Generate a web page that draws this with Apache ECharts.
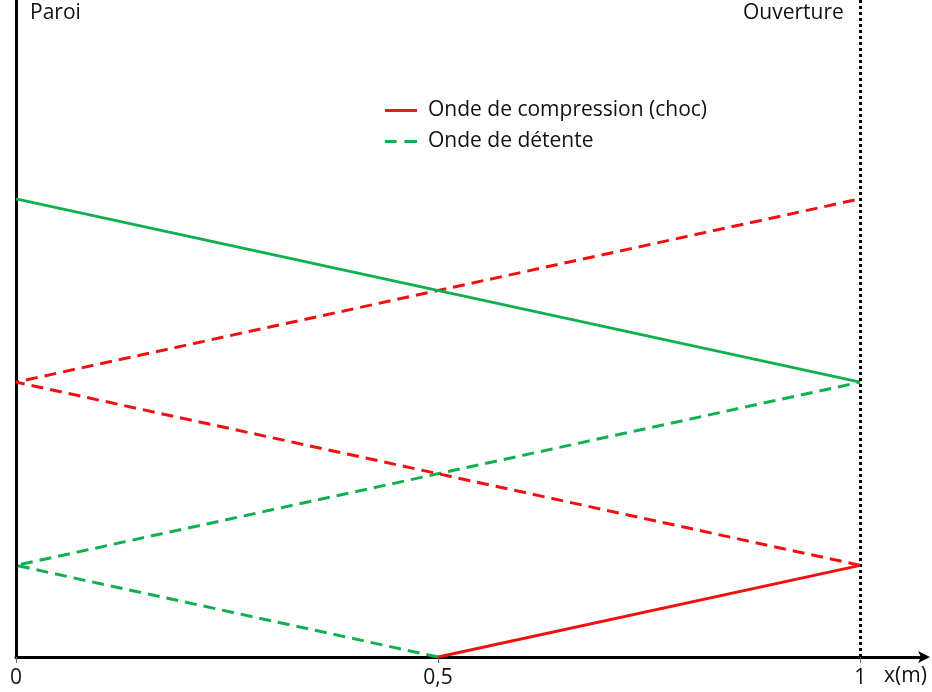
<!DOCTYPE html>
<html><head><meta charset="utf-8">
<script src="https://cdn.jsdelivr.net/npm/echarts@6/dist/echarts.min.js"></script>
<style>html,body{margin:0;padding:0;background:#fff}#c{width:932px;height:692px}</style>
</head><body><div id="c"></div>
<script>
// x positions (m) and time (arbitrary units) of each wave path
const shockX = [0.5, 1];        const shockT = [0, 1];        // Onde de compression (choc)
const detenteX = [0.5, 0, 1];   const detenteT = [0, 1, 3];   // Onde de détente
const reflCompX = [1, 0, 1];    const reflCompT = [1, 3, 5];  // reflected compression (dashed red)
const reflDetX = [1, 0];        const reflDetT = [3, 5];      // reflected expansion (solid green)
const xTickValues = [0, 0.5, 1];
const wallX = 1;

const RED = '#F01010', GREEN = '#10B050';
const FONT = 'Open Sans';
const pts = (xs, ts) => xs.map((x, i) => [x, ts[i]]);

const chart = echarts.init(document.getElementById('c'));
chart.setOption({
  animation: false,
  grid: {left: 16, right: 6, top: 0, bottom: 35},
  legend: {
    data: [
      {name: 'Onde de compression (choc)', icon: 'path://M0,0H33V3H0Z'},
      {name: 'Onde de détente', icon: 'path://M0,0H12V3H0ZM20,0H33V3H20Z'}
    ],
    orient: 'vertical', left: 385, top: 100, padding: 0, itemWidth: 32, itemHeight: 3, itemGap: 10,
    textStyle: {fontFamily: FONT, fontSize: 21, color: '#111', padding: [0, 0, 0, 6]}
  },
  xAxis: {
    type: 'value', min: 0, max: 1.078, interval: 0.5,
    splitLine: {show: false},
    axisLine: {lineStyle: {color: '#000', width: 3}, symbol: ['none', 'arrow'], symbolSize: [9, 12], symbolOffset: [0, 4]},
    axisTick: {show: true, length: 6, lineStyle: {color: '#666', width: 1}},
    axisLabel: {
      showMaxLabel: false, margin: 11, fontFamily: FONT, fontSize: 21, color: '#111',
      formatter: v => xTickValues.includes(v) ? String(v).replace('.', ',') : ''
    }
  },
  yAxis: {
    type: 'value', min: 0, max: 7.17,
    splitLine: {show: false},
    axisLine: {show: true, lineStyle: {color: '#000', width: 3}},
    axisTick: {show: false}, axisLabel: {show: false}
  },
  graphic: [
    {type: 'text', left: 30, top: 3, style: {text: 'Paroi', font: '21px "Open Sans"', fill: '#111'}},
    {type: 'text', left: 743, top: 3, style: {text: 'Ouverture', font: '21px "Open Sans"', fill: '#111'}},
    {type: 'text', left: 884, top: 666, style: {text: 'x(m)', font: '21px "Open Sans"', fill: '#111'}}
  ],
  series: [
    {name: 'Onde de compression (choc)', type: 'line', data: pts(shockX, shockT), symbol: 'none',
     lineStyle: {color: RED, width: 3}, itemStyle: {color: RED}, z: 5,
     markLine: {silent: true, symbol: 'none', label: {show: false},
       lineStyle: {color: '#000', type: [3, 3], width: 3}, data: [{xAxis: wallX}]}},
    {name: 'Onde de détente', type: 'line', data: pts(detenteX, detenteT), symbol: 'none',
     lineStyle: {color: GREEN, width: 3, type: [12, 7]}, itemStyle: {color: GREEN}},
    {name: 'refl-comp', type: 'line', data: pts(reflCompX, reflCompT), symbol: 'none',
     lineStyle: {color: RED, width: 3, type: [12, 7]}, itemStyle: {color: RED}},
    {name: 'refl-det', type: 'line', data: pts(reflDetX, reflDetT), symbol: 'none',
     lineStyle: {color: GREEN, width: 3}, itemStyle: {color: GREEN}}
  ]
});
</script></body></html>
